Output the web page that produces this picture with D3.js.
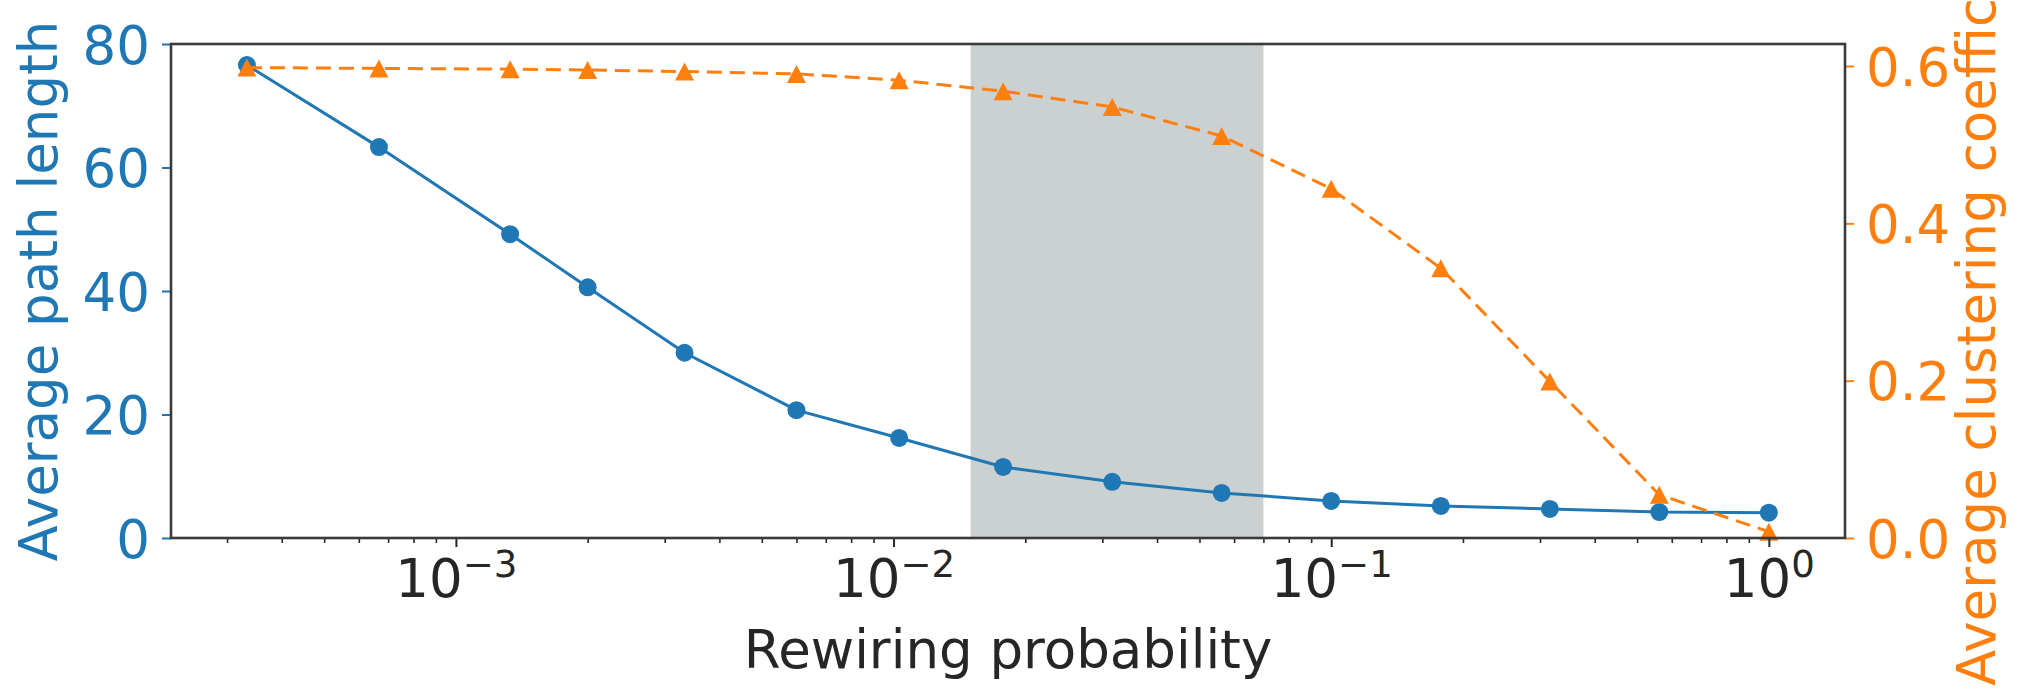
<!DOCTYPE html>
<html>
<head>
<meta charset="utf-8">
<script src="https://cdn.jsdelivr.net/npm/d3@7"></script>
<style>
  html, body { margin: 0; padding: 0; background: #fff; }
  svg { display: block; }
  text { font-family: "DejaVu Sans", sans-serif; }
</style>
</head>
<body>
<svg id="chart" width="2023" height="691"></svg>
<script>
// ---- data ----
const rewiringProb = [0.000333, 0.000667, 0.00133, 0.002, 0.00333, 0.006, 0.0103,
                      0.0178, 0.0316, 0.0562, 0.1, 0.178, 0.316, 0.562, 1.0];
const avgPathLength = [76.6, 63.3, 49.2, 40.6, 30.0, 20.7, 16.2,
                       11.5, 9.1, 7.3, 6.0, 5.2, 4.7, 4.2, 4.1];
const avgClustering = [0.598, 0.597, 0.596, 0.595, 0.593, 0.590, 0.582,
                       0.568, 0.548, 0.511, 0.444, 0.343, 0.199, 0.055, 0.008];
const shadeRange = [0.015, 0.07];
const leftTicks = [0, 20, 40, 60, 80];
const rightTicks = [0.0, 0.2, 0.4, 0.6];
const xMajorExp = [-3, -2, -1, 0];
const leftLabel = "Average path length";
const rightLabel = "Average clustering coefficient";
const xLabel = "Rewiring probability";

// ---- layout ----
const L = 171, R = 1845, T = 44, B = 538;
const blue = "#1f77b4", orange = "#ff7f0e", spine = "#3a3a3a", dark = "#262626";
const FS = 53;

const svg = d3.select("#chart");

const x = d3.scaleLog().domain([Math.pow(10, -3.651), Math.pow(10, 0.174)]).range([L, R]);
const yL = d3.scaleLinear().domain([0, 80]).range([B, T]);
const yR = d3.scaleLinear().domain([0, 0.628]).range([B, T]);

// shaded span
svg.append("rect")
  .attr("x", x(shadeRange[0])).attr("y", T)
  .attr("width", x(shadeRange[1]) - x(shadeRange[0]))
  .attr("height", B - T)
  .attr("fill", "#cbd1d1");

// blue line
svg.append("path")
  .datum(rewiringProb.map((p, i) => [p, avgPathLength[i]]))
  .attr("fill", "none").attr("stroke", blue).attr("stroke-width", 3)
  .attr("d", d3.line().x(d => x(d[0])).y(d => yL(d[1])));
svg.append("g").selectAll("circle")
  .data(rewiringProb.map((p, i) => [p, avgPathLength[i]]))
  .join("circle")
  .attr("cx", d => x(d[0])).attr("cy", d => yL(d[1]))
  .attr("r", 9).attr("fill", blue);

// orange dashed line
svg.append("path")
  .datum(rewiringProb.map((p, i) => [p, avgClustering[i]]))
  .attr("fill", "none").attr("stroke", orange).attr("stroke-width", 3)
  .attr("stroke-dasharray", "15,8")
  .attr("d", d3.line().x(d => x(d[0])).y(d => yR(d[1])));
const tw = 19, th = 18;
svg.append("g").selectAll("path")
  .data(rewiringProb.map((p, i) => [p, avgClustering[i]]))
  .join("path")
  .attr("transform", d => `translate(${x(d[0])},${yR(d[1])})`)
  .attr("d", `M0,${-th/2} L${tw/2},${th/2} L${-tw/2},${th/2} Z`)
  .attr("fill", orange);

// axes
const gL = svg.append("g").attr("transform", `translate(${L},0)`)
  .call(d3.axisLeft(yL).tickValues(leftTicks).tickSize(9).tickPadding(12).tickFormat(d3.format("d")));
gL.select(".domain").remove();
gL.selectAll("line").attr("stroke", blue).attr("stroke-width", 2);
gL.selectAll("text").attr("fill", blue).attr("font-size", FS).attr("font-family", "DejaVu Sans").attr("dy", "0.36em");

const gR = svg.append("g").attr("transform", `translate(${R},0)`)
  .call(d3.axisRight(yR).tickValues(rightTicks).tickSize(9).tickPadding(12).tickFormat(d3.format(".1f")));
gR.select(".domain").remove();
gR.selectAll("line").attr("stroke", orange).attr("stroke-width", 2);
gR.selectAll("text").attr("fill", orange).attr("font-size", FS).attr("font-family", "DejaVu Sans").attr("dy", "0.36em");

// minor x ticks
const minor = [];
for (let e = -4; e <= 0; e++) for (let m = 2; m <= 9; m++) {
  const v = m * Math.pow(10, e);
  if (x(v) >= L && x(v) <= R) minor.push(v);
}
const gXm = svg.append("g").attr("transform", `translate(0,${B})`)
  .call(d3.axisBottom(x).tickValues(minor).tickSize(5).tickFormat(""));
gXm.select(".domain").remove();
gXm.selectAll("line").attr("stroke", dark).attr("stroke-width", 1.6);

const majors = xMajorExp.map(e => Math.pow(10, e));
const gX = svg.append("g").attr("transform", `translate(0,${B})`)
  .call(d3.axisBottom(x).tickValues(majors).tickSize(9).tickFormat(""));
gX.select(".domain").remove();
gX.selectAll("line").attr("stroke", dark).attr("stroke-width", 2);
gX.selectAll(".tick").each(function(d, i) {
  const t = d3.select(this).append("text")
    .attr("x", 0).attr("y", 59)
    .attr("text-anchor", "middle").attr("fill", dark)
    .attr("font-size", FS).attr("font-family", "DejaVu Sans");
  t.append("tspan").text("10");
  t.append("tspan").attr("dy", -20).attr("font-size", FS * 0.7)
    .text((xMajorExp[i] < 0 ? "\u2212" : "") + Math.abs(xMajorExp[i]));
});

// spines
svg.append("rect").attr("x", L).attr("y", T).attr("width", R - L).attr("height", B - T)
  .attr("fill", "none").attr("stroke", spine).attr("stroke-width", 2.6);

// axis labels
svg.append("text")
  .attr("transform", `translate(57,${(T + B) / 2}) rotate(-90)`)
  .attr("text-anchor", "middle").attr("fill", blue).attr("font-size", FS)
  .text(leftLabel);
svg.append("text")
  .attr("transform", `translate(1995,${(T + B) / 2}) rotate(-90)`)
  .attr("text-anchor", "middle").attr("fill", orange).attr("font-size", FS)
  .text(rightLabel);
svg.append("text")
  .attr("x", (L + R) / 2).attr("y", 668)
  .attr("text-anchor", "middle").attr("fill", dark).attr("font-size", FS)
  .text(xLabel);
</script>
</body>
</html>
